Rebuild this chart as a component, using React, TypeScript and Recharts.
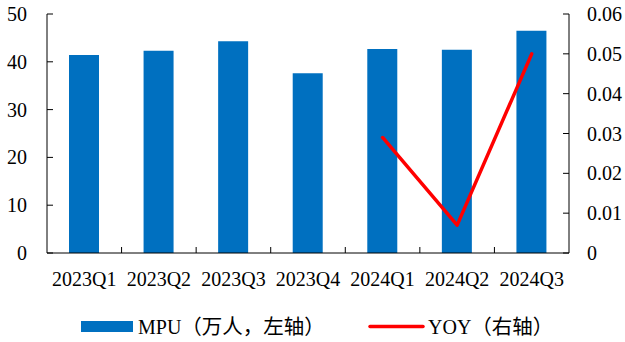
import React from 'react';
import { ComposedChart, Bar, Line, XAxis, YAxis } from 'recharts';

// Quarterly MPU (10k users, left axis) and year-over-year growth (right axis)
const categories = ['2023Q1', '2023Q2', '2023Q3', '2023Q4', '2024Q1', '2024Q2', '2024Q3'];
const mpuValues = [41.4, 42.3, 44.3, 37.6, 42.7, 42.5, 46.5];
const yoyValues: (number | null)[] = [null, null, null, null, 0.029, 0.007, 0.05];
const leftTicks = [0, 10, 20, 30, 40, 50];
const rightTicks = [0, 0.01, 0.02, 0.03, 0.04, 0.05, 0.06];

const data = categories.map((quarter, i) => ({
  quarter,
  mpu: mpuValues[i],
  yoy: yoyValues[i],
}));

const WIDTH = 625;
const HEIGHT = 342;
const LEFT_AXIS_W = 47;
const RIGHT_AXIS_W = 56;
const TOP = 14;
const X_AXIS_H = 40;
const BOTTOM = 49;
const PLOT_W = WIDTH - LEFT_AXIS_W - RIGHT_AXIS_W;
const BAND = PLOT_W / categories.length;

const SERIF = '"Liberation Serif", "Times New Roman", serif';
const CJK = '"Noto Sans CJK SC", sans-serif';
const FONT_SIZE = 20;
const BLUE = '#0070C0';
const RED = '#FF0000';

const XTick = (props: any) => {
  const { x, y, payload, index } = props;
  return (
    <g>
      {index > 0 && (
        <line x1={x - BAND / 2} x2={x - BAND / 2} y1={y} y2={y - 6} stroke="#000" strokeWidth={1} />
      )}
      <text x={x} y={y + 33} textAnchor="middle" fontFamily={SERIF} fontSize={FONT_SIZE} fill="#000">
        {payload.value}
      </text>
    </g>
  );
};

const LeftTick = (props: any) => {
  const { x, y, payload } = props;
  return (
    <g>
      <line x1={x} x2={x + 6} y1={y} y2={y} stroke="#000" strokeWidth={1} />
      <text x={x - 20} y={y + 7} textAnchor="end" fontFamily={SERIF} fontSize={FONT_SIZE} fill="#000">
        {payload.value}
      </text>
    </g>
  );
};

const RightTick = (props: any) => {
  const { x, y, payload } = props;
  const v = payload.value as number;
  return (
    <g>
      <line x1={x - 6} x2={x} y1={y} y2={y} stroke="#000" strokeWidth={1} />
      <text x={x + 18} y={y + 7} textAnchor="start" fontFamily={SERIF} fontSize={FONT_SIZE} fill="#000">
        {v === 0 ? '0' : v.toFixed(2)}
      </text>
    </g>
  );
};

const LegendOverlay = () => (
  <svg width={WIDTH} height={HEIGHT} style={{ position: 'absolute', left: 0, top: 0, pointerEvents: 'none' }}>
    <rect x={81} y={321} width={52} height={11} fill={BLUE} />
    <text x={138} y={334} fontSize={FONT_SIZE} fill="#000">
      <tspan fontFamily={SERIF}>MPU</tspan>
      <tspan fontFamily={CJK} fontSize={20.5}>（万人，左轴）</tspan>
    </text>
    <line x1={370} x2={423} y1={326.5} y2={326.5} stroke={RED} strokeWidth={3.5} strokeLinecap="round" />
    <text x={428} y={334} fontSize={FONT_SIZE} fill="#000">
      <tspan fontFamily={SERIF}>YOY</tspan>
      <tspan fontFamily={CJK} fontSize={20.5}>（右轴）</tspan>
    </text>
  </svg>
);

export default function App() {
  return (
    <div style={{ position: 'absolute', left: 0, top: 0, width: WIDTH, height: HEIGHT, background: '#fff' }}>
      <ComposedChart
        width={WIDTH}
        height={HEIGHT}
        data={data}
        margin={{ top: TOP, right: 0, left: 0, bottom: BOTTOM }}
      >
        <XAxis
          dataKey="quarter"
          height={X_AXIS_H}
          axisLine={{ stroke: '#000', strokeWidth: 1 }}
          tickLine={false}
          tickSize={0}
          tickMargin={0}
          interval={0}
          tick={<XTick />}
        />
        <YAxis
          yAxisId="left"
          orientation="left"
          width={LEFT_AXIS_W}
          domain={[0, 50]}
          ticks={leftTicks}
          axisLine={{ stroke: '#000', strokeWidth: 1 }}
          tickLine={false}
          tickSize={0}
          tickMargin={0}
          interval={0}
          tick={<LeftTick />}
        />
        <YAxis
          yAxisId="right"
          orientation="right"
          width={RIGHT_AXIS_W}
          domain={[0, 0.06]}
          ticks={rightTicks}
          axisLine={{ stroke: '#000', strokeWidth: 1 }}
          tickLine={false}
          tickSize={0}
          tickMargin={0}
          interval={0}
          tick={<RightTick />}
        />
        <Bar yAxisId="left" dataKey="mpu" fill={BLUE} barSize={30} isAnimationActive={false} />
        <Line
          yAxisId="right"
          dataKey="yoy"
          stroke={RED}
          strokeWidth={3.5}
          strokeLinecap="round"
          strokeLinejoin="round"
          dot={false}
          activeDot={false}
          connectNulls={false}
          isAnimationActive={false}
        />
      </ComposedChart>
      <LegendOverlay />
    </div>
  );
}
